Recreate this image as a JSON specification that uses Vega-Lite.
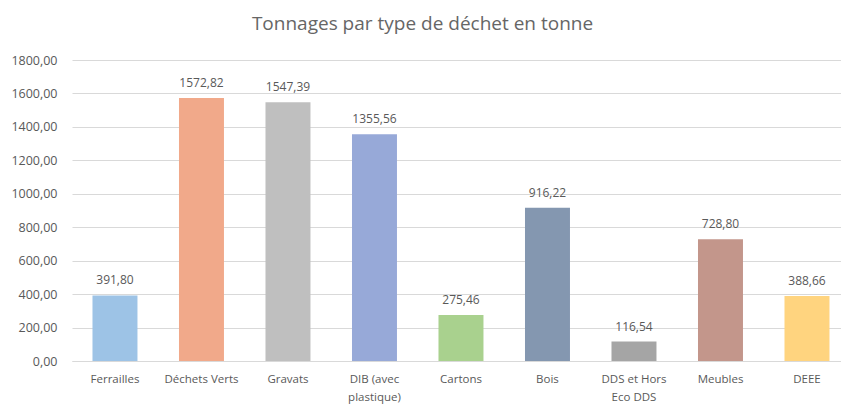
{
  "$schema": "https://vega.github.io/schema/vega-lite/v6.json",
  "width": 769,
  "height": 301,
  "autosize": {"type": "none"},
  "padding": {"left": 72, "top": 60, "right": 0, "bottom": 45},
  "background": "white",
  "title": {
    "text": "Tonnages par type de déchet en tonne",
    "font": "Open Sans",
    "fontSize": 19,
    "fontWeight": "normal",
    "color": "#666666",
    "anchor": "middle",
    "dx": -34,
    "offset": 20
  },
  "data": {
    "values": [
      {"type": "Ferrailles", "tonnes": 391.80, "color": "#9DC3E6"},
      {"type": "Déchets Verts", "tonnes": 1572.82, "color": "#F1A98A"},
      {"type": "Gravats", "tonnes": 1547.39, "color": "#BFBFBF"},
      {"type": "DIB (avec plastique)", "tonnes": 1355.56, "color": "#97A9D8"},
      {"type": "Cartons", "tonnes": 275.46, "color": "#A9D18E"},
      {"type": "Bois", "tonnes": 916.22, "color": "#8497B0"},
      {"type": "DDS et Hors Eco DDS", "tonnes": 116.54, "color": "#A5A5A5"},
      {"type": "Meubles", "tonnes": 728.80, "color": "#C3968B"},
      {"type": "DEEE", "tonnes": 388.66, "color": "#FFD47F"}
    ]
  },
  "encoding": {
    "x": {
      "field": "type",
      "type": "nominal",
      "sort": null,
      "scale": {"paddingInner": 0.48, "paddingOuter": 0.185, "align": 0.64},
      "axis": {
        "title": null,
        "labelAngle": 0,
        "labelFont": "Open Sans",
        "labelFontSize": 11.5,
        "labelColor": "#595959",
        "labelPadding": 12,
        "labelLineHeight": 18,
        "ticks": false,
        "domainColor": "#D9D9D9",
        "labelExpr": "datum.label == 'DIB (avec plastique)' ? ['DIB (avec', 'plastique)'] : datum.label == 'DDS et Hors Eco DDS' ? ['DDS et Hors', 'Eco DDS'] : datum.label"
      }
    },
    "y": {
      "field": "tonnes",
      "type": "quantitative",
      "scale": {"domain": [0, 1800], "nice": false},
      "axis": {
        "title": null,
        "values": [0, 200, 400, 600, 800, 1000, 1200, 1400, 1600, 1800],
        "format": ".2f",
        "labelFont": "Open Sans",
        "labelFontSize": 12.5,
        "labelColor": "#595959",
        "labelPadding": 15,
        "ticks": false,
        "domain": false,
        "gridColor": "#D9D9D9"
      }
    }
  },
  "layer": [
    {
      "mark": {"type": "bar"},
      "encoding": {
        "color": {"field": "color", "type": "nominal", "scale": null, "legend": null}
      }
    },
    {
      "mark": {
        "type": "text",
        "baseline": "bottom",
        "dy": -8,
        "font": "Open Sans",
        "fontSize": 12,
        "color": "#595959"
      },
      "encoding": {
        "text": {"field": "tonnes", "type": "quantitative", "format": ".2f"}
      }
    }
  ],
  "config": {
    "view": {"stroke": null},
    "locale": {
      "number": {
        "decimal": ",",
        "thousands": "",
        "grouping": [3],
        "currency": ["", " €"]
      }
    }
  }
}
